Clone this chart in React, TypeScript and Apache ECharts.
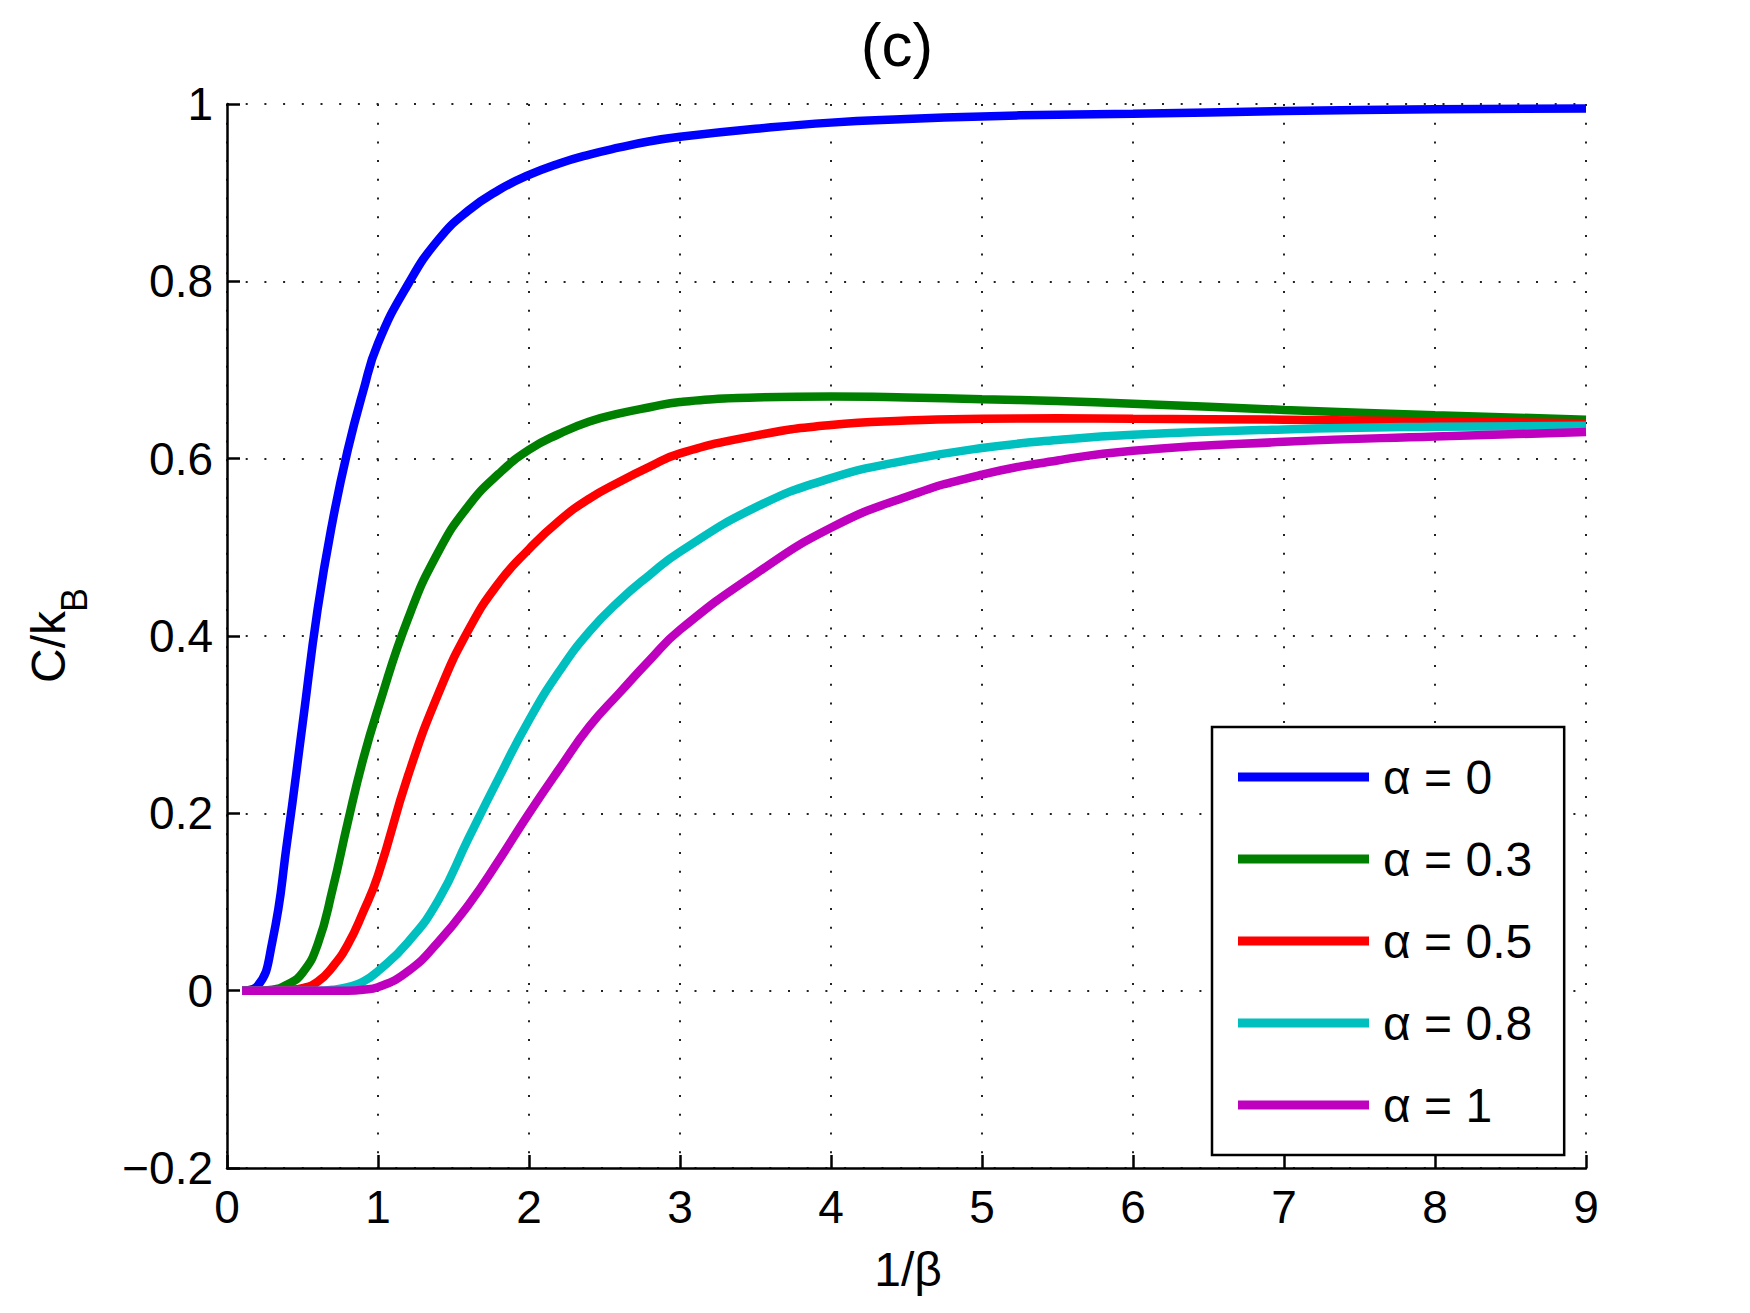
import React, { useEffect, useRef } from "react";
import * as echarts from "echarts";

// Temperature axis samples (1/β)
const temps = [0.1, 0.2, 0.3, 0.4, 0.5, 0.6, 0.7, 0.8, 0.9, 1.0, 1.2, 1.4, 1.6, 1.8, 2.0, 2.2, 2.4, 2.6, 2.8, 3.0, 3.5, 4.0, 4.5, 5.0, 5.5, 6.0, 7.0, 8.0, 9.0];

// Heat capacity C/k_B for each α
const alpha0 = [0.0, 0.005, 0.055, 0.17, 0.3, 0.43, 0.53, 0.61, 0.675, 0.73, 0.797, 0.847, 0.88, 0.903, 0.92, 0.933, 0.943, 0.951, 0.958, 0.963, 0.972, 0.979, 0.983, 0.986, 0.988, 0.989, 0.992, 0.994, 0.995];
const alpha03 = [0.0, 0.0, 0.001, 0.007, 0.02, 0.052, 0.115, 0.19, 0.26, 0.318, 0.42, 0.495, 0.547, 0.583, 0.61, 0.628, 0.642, 0.651, 0.658, 0.664, 0.669, 0.67, 0.669, 0.667, 0.665, 0.662, 0.655, 0.649, 0.644];
const alpha05 = [0.0, 0.0, 0.0, 0.001, 0.003, 0.01, 0.027, 0.052, 0.088, 0.13, 0.243, 0.335, 0.407, 0.46, 0.498, 0.53, 0.555, 0.574, 0.591, 0.606, 0.626, 0.638, 0.643, 0.645, 0.6455, 0.645, 0.644, 0.642, 0.64];
const alpha08 = [0.0, 0.0, 0.0, 0.0, 0.0, 0.0, 0.001, 0.004, 0.01, 0.022, 0.055, 0.102, 0.172, 0.24, 0.305, 0.36, 0.405, 0.44, 0.469, 0.495, 0.545, 0.578, 0.598, 0.612, 0.621, 0.627, 0.633, 0.636, 0.637];
const alpha1 = [0.0, 0.0, 0.0, 0.0, 0.0, 0.0, 0.0, 0.0, 0.001, 0.004, 0.022, 0.055, 0.097, 0.147, 0.2, 0.25, 0.298, 0.336, 0.373, 0.407, 0.47, 0.522, 0.557, 0.582, 0.598, 0.609, 0.619, 0.625, 0.63];

const seriesNames = ["α = 0", "α = 0.3", "α = 0.5", "α = 0.8", "α = 1"];
const seriesValues = [alpha0, alpha03, alpha05, alpha08, alpha1];
const seriesColors = ["#0000ff", "#008000", "#ff0000", "#00bfbf", "#bf00bf"];

const FONT = "'Liberation Sans', Arial, Helvetica, sans-serif";

export default function App() {
  const ref = useRef<HTMLDivElement>(null);

  useEffect(() => {
    document.body.style.margin = "0";
    const chart = echarts.init(ref.current!, null, { renderer: "svg" });

    const gridDots = { type: [2, 16.7], color: "#222", width: 2 } as any;

    chart.setOption({
      animation: false,
      backgroundColor: "#ffffff",
      textStyle: { fontFamily: FONT },
      grid: { left: 227, top: 104, width: 1359, height: 1064, containLabel: false },
      xAxis: {
        type: "value",
        min: 0,
        max: 9,
        interval: 1,
        axisLine: { onZero: false, lineStyle: { color: "#000", width: 2.5 } },
        axisTick: { inside: true, length: 13, lineStyle: { color: "#000", width: 2.5 } },
        axisLabel: { color: "#000", fontSize: 46, fontFamily: FONT, margin: 16 },
        splitLine: { show: true, lineStyle: gridDots },
      },
      yAxis: {
        type: "value",
        min: -0.2,
        max: 1,
        interval: 0.2,
        axisLine: { onZero: false, lineStyle: { color: "#000", width: 2.5 } },
        axisTick: { inside: true, length: 13, lineStyle: { color: "#000", width: 2.5 } },
        axisLabel: {
          color: "#000",
          fontSize: 46,
          fontFamily: FONT,
          margin: 14,
          formatter: (v: number) => {
            const r = Math.round(v * 10) / 10;
            return r < 0 ? "\u2212" + String(Math.abs(r)) : String(r);
          },
        },
        splitLine: { show: true, lineStyle: gridDots },
      },
      legend: {
        orient: "vertical",
        left: 1212,
        top: 727,
        backgroundColor: "#ffffff",
        borderColor: "#000",
        borderWidth: 2.5,
        borderRadius: 0,
        padding: [26, 32, 26, 26],
        itemWidth: 131,
        itemHeight: 9,
        itemGap: 34,
        icon: "rect",
        textStyle: { color: "#000", fontSize: 48, lineHeight: 48, fontFamily: FONT, padding: [0, 0, 0, 9] },
        data: seriesNames,
      },
      graphic: [
        {
          type: "text",
          x: 897,
          y: 44,
          style: { text: "(c)", fontSize: 62, fontFamily: FONT, fill: "#000", align: "center", verticalAlign: "middle" },
        },
        {
          type: "text",
          x: 908,
          y: 1269,
          style: { text: "1/β", fontSize: 48, fontFamily: FONT, fill: "#000", align: "center", verticalAlign: "middle" },
        },
        {
          type: "group",
          x: 48,
          y: 636,
          rotation: Math.PI / 2,
          children: [
            {
              type: "text",
              x: -47,
              y: 0,
              style: { text: "C/k", fontSize: 48, fontFamily: FONT, fill: "#000", align: "left", verticalAlign: "middle" },
            },
            {
              type: "text",
              x: 24,
              y: 26,
              style: { text: "B", fontSize: 36, fontFamily: FONT, fill: "#000", align: "left", verticalAlign: "middle" },
            },
          ],
        },
      ],
      series: seriesNames.map((name, i) => ({
        name,
        type: "line",
        data: temps.map((t, j) => [t, seriesValues[i][j]]),
        showSymbol: false,
        smooth: 0.5,
        lineStyle: { color: seriesColors[i], width: 8.5 },
        itemStyle: { color: seriesColors[i] },
        z: 2 + i,
      })),
    });

    return () => chart.dispose();
  }, []);

  return <div ref={ref} style={{ width: 1750, height: 1313 }} />;
}
